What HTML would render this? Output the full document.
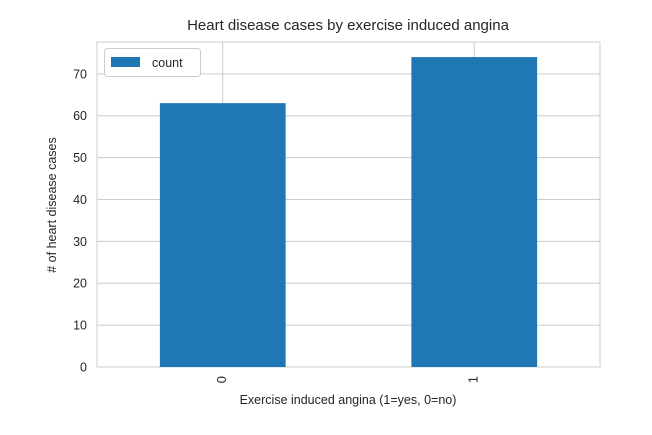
<!DOCTYPE html>
<html><head><style>
body{margin:0;background:#fff;}
svg text{font-family:"Liberation Sans","DejaVu Sans",sans-serif;fill:#262626;}
</style></head><body>
<svg id="c" width="652" height="430">
<rect x="97" y="42" width="503" height="325" fill="#fff" stroke="#ccc"/>
<g id="grid"></g><g id="bars"></g><g id="ticks"></g>
<text x="348" y="30" text-anchor="middle" font-size="15">Heart disease cases by exercise induced angina</text>
<text x="348" y="404" text-anchor="middle" font-size="12.5">Exercise induced angina (1=yes, 0=no)</text>
<text transform="translate(56,205) rotate(-90)" text-anchor="middle" font-size="12.5"># of heart disease cases</text>
<g>
<rect x="104.5" y="48.5" width="96" height="28" rx="3" fill="#fff" stroke="#ccc"/>
<rect x="111" y="57" width="29" height="10" fill="#1f77b4"/>
<text x="152" y="67" font-size="12.5">count</text>
</g>
</svg>
<script>
const categories=["0","1"];
const counts=[63,74];
const yTicks=[0,10,20,30,40,50,60,70];
const ns="http://www.w3.org/2000/svg";
const L=97,R=600,T=42,B=367,yMax=77.6;
function y(v){return B-v/yMax*(B-T);}
function xc(i){return L+(i+0.5)*(R-L)/categories.length;}
const bw=(R-L)/categories.length*0.5;
function mk(g,tag,a){const e=document.createElementNS(ns,tag);for(const k in a)e.setAttribute(k,a[k]);document.getElementById(g).appendChild(e);return e;}
yTicks.forEach(v=>{
 const l=mk('grid','line',{x1:L,x2:R,y1:y(v),y2:y(v),stroke:'#ccc'});
 
 
 const t=mk('ticks','text',{x:L-10,y:y(v)+4.5,'text-anchor':'end','font-size':'12.5'});
 t.textContent=v;
 
 
});
categories.forEach((c,i)=>{
 const g=mk('grid','line',{x1:xc(i),x2:xc(i),y1:T,y2:B,stroke:'#ccc'});
 
 
 const b=mk('bars','rect',{x:xc(i)-bw/2,y:y(counts[i]),width:bw,height:B-y(counts[i]),fill:'#1f77b4'});
 
 
 const t=mk('ticks','text',{transform:`translate(${xc(i)+3},${B+9}) rotate(-90)`,'text-anchor':'end','font-size':'13'});
 t.textContent=c;
 
 
});
</script>
</body></html>
